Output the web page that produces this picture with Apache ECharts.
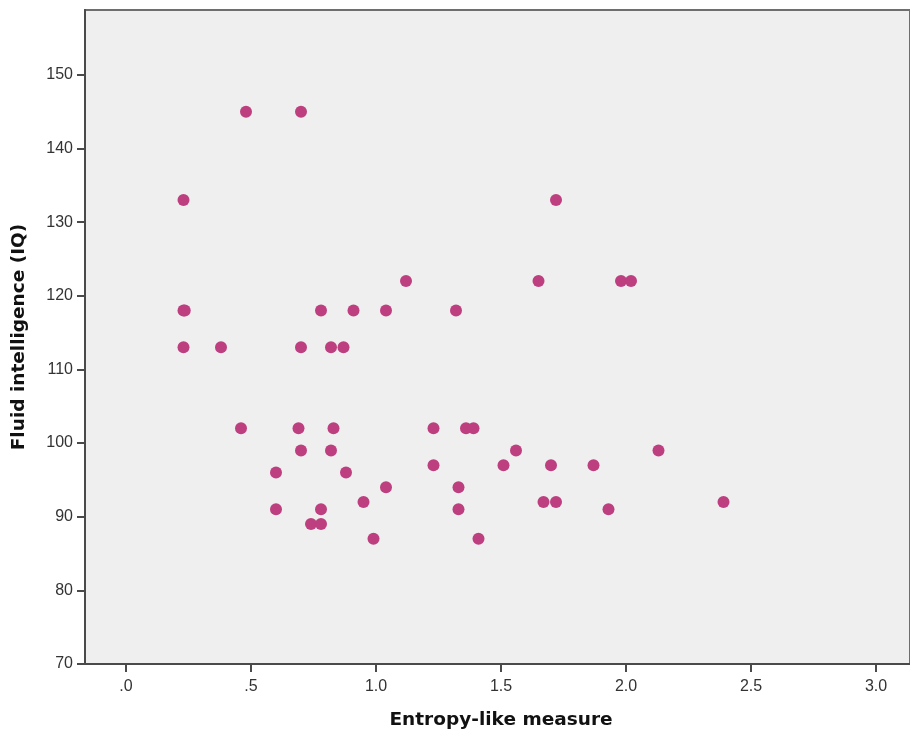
<!DOCTYPE html>
<html>
<head>
<meta charset="utf-8">
<title>Fluid intelligence vs entropy-like measure</title>
<script src="https://cdn.jsdelivr.net/npm/echarts@6/dist/echarts.min.js"></script>
<style>
  html, body { margin: 0; padding: 0; background: #ffffff; }
  #chart { width: 910px; height: 735px; }
</style>
</head>
<body>
<div id="chart"></div>
<script>
// Entropy-like measure (x) and fluid intelligence IQ (y), one entry per participant
const entropy = [
  0.48, 0.70, 0.23, 1.72, 1.12, 1.65, 1.98, 2.02,
  0.23, 0.235, 0.78, 0.91, 1.04, 1.32,
  0.23, 0.38, 0.70, 0.82, 0.87,
  0.46, 0.69, 0.83, 1.23, 1.36, 1.39,
  0.70, 0.82, 1.56, 2.13,
  0.60, 0.88, 1.23, 1.51, 1.70, 1.87,
  1.04, 1.33,
  0.95, 1.67, 1.72, 2.39,
  0.60, 0.78, 1.33, 1.93,
  0.74, 0.78,
  0.99, 1.41
];
const iq = [
  145, 145, 133, 133, 122, 122, 122, 122,
  118, 118, 118, 118, 118, 118,
  113, 113, 113, 113, 113,
  102, 102, 102, 102, 102, 102,
  99, 99, 99, 99,
  96, 96, 97, 97, 97, 97,
  94, 94,
  92, 92, 92, 92,
  91, 91, 91, 91,
  89, 89,
  87, 87
];

// Axis tick positions and their printed labels
const xTicks = [0, 0.5, 1.0, 1.5, 2.0, 2.5, 3.0];
const xTickLabels = ['.0', '.5', '1.0', '1.5', '2.0', '2.5', '3.0'];
const yTicks = [70, 80, 90, 100, 110, 120, 130, 140, 150];

const points = entropy.map((x, i) => [x, iq[i]]);

const chart = echarts.init(document.getElementById('chart'), null, { renderer: 'canvas' });

const labelFont = '"Liberation Sans", Arial, Helvetica, sans-serif';
const titleFont = '"DejaVu Sans", Verdana, sans-serif';

chart.setOption({
  backgroundColor: '#ffffff',
  animation: false,
  grid: {
    left: 85,
    right: 0,
    top: 10,
    bottom: 70,
    show: true,
    backgroundColor: '#efefef',
    borderColor: '#6e6e6e',
    borderWidth: 2
  },
  xAxis: {
    type: 'value',
    min: -0.164,
    max: 3.136,
    name: 'Entropy-like measure',
    nameLocation: 'middle',
    nameGap: 47,
    nameTextStyle: {
      fontFamily: titleFont, fontSize: 18.5, fontWeight: 'bold', color: '#111',
      padding: [0, 0, 0, 7]
    },
    splitLine: { show: false },
    axisLine: { show: true, onZero: false, lineStyle: { color: '#4a4a4a', width: 2 } },
    axisTick: {
      show: true, length: 8, inside: false,
      customValues: xTicks,
      lineStyle: { color: '#4a4a4a', width: 2 }
    },
    axisLabel: {
      customValues: xTicks,
      margin: 15,
      fontFamily: labelFont, fontSize: 16, color: '#333',
      formatter: v => {
        const k = xTicks.findIndex(t => Math.abs(t - v) < 1e-9);
        return k >= 0 ? xTickLabels[k] : '';
      }
    }
  },
  yAxis: {
    type: 'value',
    min: 70,
    max: 158.8,
    name: 'Fluid intelligence (IQ)',
    nameLocation: 'middle',
    nameGap: 56,
    nameRotate: 90,
    nameTextStyle: {
      fontFamily: titleFont, fontSize: 18.5, fontWeight: 'bold', color: '#111',
      padding: [0, 0, 0, 0]
    },
    splitLine: { show: false },
    axisLine: { show: true, onZero: false, lineStyle: { color: '#4a4a4a', width: 2 } },
    axisTick: {
      show: true, length: 8, inside: false,
      customValues: yTicks,
      lineStyle: { color: '#4a4a4a', width: 2 }
    },
    axisLabel: {
      customValues: yTicks,
      margin: 12,
      fontFamily: labelFont, fontSize: 16, color: '#333'
    }
  },
  series: [{
    type: 'scatter',
    data: points,
    symbol: 'circle',
    symbolSize: 12,
    itemStyle: { color: '#bd3f80', opacity: 1 },
    emphasis: { disabled: true }
  }]
});
</script>
</body>
</html>
